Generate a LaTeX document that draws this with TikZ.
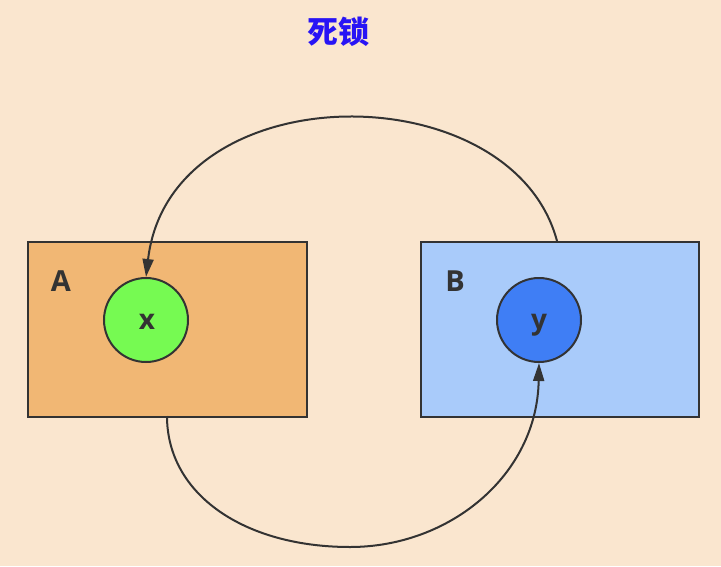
\documentclass[tikz,border=0pt]{standalone}
\usepackage{fontspec}
\setmainfont{Open Sans}
\newfontfamily\cjk{Noto Sans CJK SC}
\usetikzlibrary{arrows.meta}
\definecolor{bg}{RGB}{250,230,207}
\definecolor{afill}{RGB}{241,183,116}
\definecolor{bfill}{RGB}{169,203,250}
\definecolor{xfill}{RGB}{118,250,82}
\definecolor{yfill}{RGB}{63,126,245}
\definecolor{ink}{RGB}{51,51,51}
\definecolor{titleblue}{RGB}{40,20,245}
\tikzset{
  box/.style={draw=ink, line width=2pt, inner sep=0pt, anchor=north west},
  res/.style={circle, draw=ink, line width=2pt, minimum size=84pt, inner sep=0pt},
  restext/.style={font=\fontsize{28}{30}\selectfont\bfseries, text=ink, inner sep=0pt},
  lbl/.style={font=\fontsize{29}{30}\selectfont\bfseries, text=ink},
  conn/.style={draw=ink, line width=2pt, -{Triangle[length=18pt,width=11pt]}},
}
\begin{document}
\begin{tikzpicture}[x=1pt,y=-1pt]
\fill[bg] (0,0) rectangle (721,566);
\useasboundingbox (0,0) rectangle (721,566);
\node[font=\cjk\bfseries\fontsize{31}{34}\selectfont, text=titleblue] (title) at (338,32) {死锁};
\node[box, fill=afill, minimum width=279pt, minimum height=175pt] (A) at (27,241) {};
\node[box, fill=bfill, minimum width=278pt, minimum height=175pt] (B) at (420,241) {};
\node[lbl] (la) at (61,281) {A};
\node[lbl] (lb) at (455,281) {B};
\node[res, fill=xfill] (x) at (146,320) {};
\node[res, fill=yfill] (y) at (539,320) {};
\node[restext] (xt) at (147,322) {x};
\node[restext] (yt) at (539,325) {y};
\coordinate (bt) at (557,241);
\coordinate (ab) at (167,416);
\coordinate (bot) at (350,547);
\draw[conn] (bt) .. controls (512,72) and (170,72) .. (x.north);
\draw[conn] (ab) .. controls (167,495) and (245,547) .. (bot) .. controls (450,547) and (537,475) .. (y.south);
\end{tikzpicture}
\end{document}
